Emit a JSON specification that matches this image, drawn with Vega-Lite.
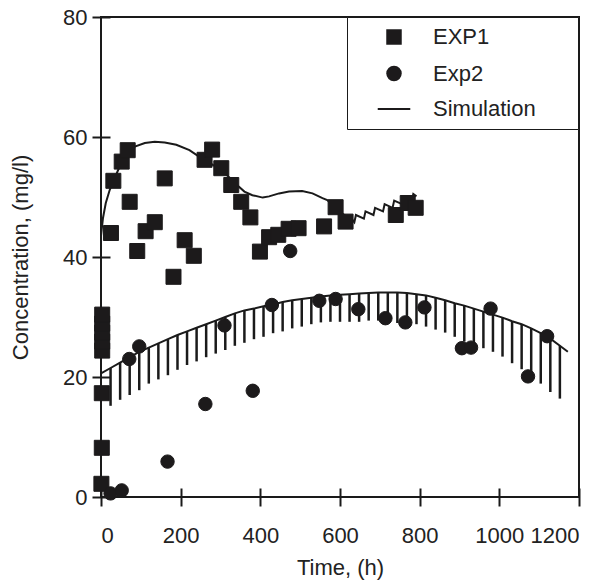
{
  "$schema": "https://vega.github.io/schema/vega-lite/v6.json",
  "width": 478,
  "height": 480,
  "autosize": {"type": "none"},
  "padding": {"left": 101, "top": 17, "right": 29, "bottom": 90},
  "background": "white",
  "config": {
    "view": {"stroke": "#1a1a1a", "strokeWidth": 2},
    "font": "Liberation Sans",
    "axis": {
      "domain": false,
      "grid": false,
      "ticks": true,
      "tickColor": "#1a1a1a",
      "tickWidth": 2,
      "tickSize": 18,
      "offset": -9,
      "labelOverlap": false,
      "labelFont": "Liberation Sans",
      "labelFontSize": 22,
      "labelColor": "#222222",
      "titleFont": "Liberation Sans",
      "titleFontSize": 22,
      "titleFontWeight": "normal",
      "titleColor": "#222222"
    }
  },
  "datasets": {
    "obs": [
      {"t": 1, "c": 2.2, "series": "EXP1"},
      {"t": 2, "c": 8.2, "series": "EXP1"},
      {"t": 2, "c": 17.3, "series": "EXP1"},
      {"t": 3, "c": 24.4, "series": "EXP1"},
      {"t": 3, "c": 25.9, "series": "EXP1"},
      {"t": 3, "c": 27.4, "series": "EXP1"},
      {"t": 3, "c": 28.9, "series": "EXP1"},
      {"t": 3, "c": 30.4, "series": "EXP1"},
      {"t": 25, "c": 44.0, "series": "EXP1"},
      {"t": 31, "c": 52.7, "series": "EXP1"},
      {"t": 52, "c": 55.9, "series": "EXP1"},
      {"t": 67, "c": 57.8, "series": "EXP1"},
      {"t": 72, "c": 49.2, "series": "EXP1"},
      {"t": 91, "c": 41.0, "series": "EXP1"},
      {"t": 112, "c": 44.3, "series": "EXP1"},
      {"t": 135, "c": 45.8, "series": "EXP1"},
      {"t": 160, "c": 53.1, "series": "EXP1"},
      {"t": 182, "c": 36.7, "series": "EXP1"},
      {"t": 210, "c": 42.8, "series": "EXP1"},
      {"t": 233, "c": 40.2, "series": "EXP1"},
      {"t": 260, "c": 56.2, "series": "EXP1"},
      {"t": 279, "c": 57.9, "series": "EXP1"},
      {"t": 302, "c": 54.8, "series": "EXP1"},
      {"t": 327, "c": 52.0, "series": "EXP1"},
      {"t": 352, "c": 49.2, "series": "EXP1"},
      {"t": 375, "c": 46.6, "series": "EXP1"},
      {"t": 399, "c": 40.9, "series": "EXP1"},
      {"t": 422, "c": 43.3, "series": "EXP1"},
      {"t": 445, "c": 43.7, "series": "EXP1"},
      {"t": 471, "c": 44.7, "series": "EXP1"},
      {"t": 496, "c": 44.8, "series": "EXP1"},
      {"t": 560, "c": 45.1, "series": "EXP1"},
      {"t": 589, "c": 48.3, "series": "EXP1"},
      {"t": 614, "c": 45.9, "series": "EXP1"},
      {"t": 740, "c": 47.0, "series": "EXP1"},
      {"t": 770, "c": 49.0, "series": "EXP1"},
      {"t": 790, "c": 48.2, "series": "EXP1"},
      {"t": 24, "c": 0.6, "series": "Exp2"},
      {"t": 52, "c": 1.1, "series": "Exp2"},
      {"t": 71, "c": 23.0, "series": "Exp2"},
      {"t": 96, "c": 25.1, "series": "Exp2"},
      {"t": 167, "c": 5.9, "series": "Exp2"},
      {"t": 262, "c": 15.5, "series": "Exp2"},
      {"t": 310, "c": 28.6, "series": "Exp2"},
      {"t": 381, "c": 17.7, "series": "Exp2"},
      {"t": 429, "c": 32.0, "series": "Exp2"},
      {"t": 475, "c": 41.0, "series": "Exp2"},
      {"t": 548, "c": 32.7, "series": "Exp2"},
      {"t": 589, "c": 33.0, "series": "Exp2"},
      {"t": 646, "c": 31.3, "series": "Exp2"},
      {"t": 714, "c": 29.8, "series": "Exp2"},
      {"t": 764, "c": 29.1, "series": "Exp2"},
      {"t": 812, "c": 31.6, "series": "Exp2"},
      {"t": 906, "c": 24.8, "series": "Exp2"},
      {"t": 929, "c": 24.9, "series": "Exp2"},
      {"t": 978, "c": 31.4, "series": "Exp2"},
      {"t": 1072, "c": 20.1, "series": "Exp2"},
      {"t": 1120, "c": 26.8, "series": "Exp2"}
    ],
    "sim1": [
      {"t": 0, "c": 43.5}, {"t": 5, "c": 46.5}, {"t": 12, "c": 49.0}, {"t": 22, "c": 51.2},
      {"t": 43, "c": 54.5}, {"t": 60, "c": 56.5}, {"t": 85, "c": 58.4}, {"t": 110, "c": 59.0},
      {"t": 135, "c": 59.2}, {"t": 160, "c": 59.1}, {"t": 189, "c": 58.7}, {"t": 222, "c": 57.8},
      {"t": 247, "c": 56.7}, {"t": 270, "c": 55.8}, {"t": 289, "c": 55.0}, {"t": 310, "c": 54.0},
      {"t": 330, "c": 52.8}, {"t": 345, "c": 51.8}, {"t": 360, "c": 50.9}, {"t": 380, "c": 50.3},
      {"t": 406, "c": 49.9}, {"t": 422, "c": 50.1}, {"t": 447, "c": 50.6}, {"t": 472, "c": 50.9},
      {"t": 505, "c": 51.0}, {"t": 531, "c": 50.6}, {"t": 556, "c": 49.8}, {"t": 568, "c": 49.5},
      {"t": 597, "c": 47.6}, {"t": 615, "c": 46.8}, {"t": 631, "c": 46.2},
      {"t": 636, "c": 45.8}, {"t": 640, "c": 47.0}, {"t": 660, "c": 46.4}, {"t": 664, "c": 47.6},
      {"t": 684, "c": 47.0}, {"t": 688, "c": 48.2}, {"t": 708, "c": 47.6}, {"t": 712, "c": 48.8},
      {"t": 732, "c": 48.2}, {"t": 736, "c": 49.4}, {"t": 756, "c": 48.8}, {"t": 760, "c": 50.0},
      {"t": 780, "c": 49.3}, {"t": 784, "c": 50.5}, {"t": 792, "c": 50.1}
    ],
    "sim2": [
      {"t": 0, "c": 20.6, "lo": null},
      {"t": 24, "c": 21.5, "lo": 15.2},
      {"t": 48, "c": 22.4, "lo": 16.2},
      {"t": 72, "c": 23.3, "lo": 17.0},
      {"t": 96, "c": 24.2, "lo": 17.8},
      {"t": 120, "c": 24.9, "lo": 18.9},
      {"t": 144, "c": 25.6, "lo": 19.6},
      {"t": 168, "c": 26.3, "lo": 20.3},
      {"t": 192, "c": 27.0, "lo": 21.2},
      {"t": 216, "c": 27.6, "lo": 22.0},
      {"t": 240, "c": 28.2, "lo": 22.6},
      {"t": 264, "c": 28.8, "lo": 23.3},
      {"t": 288, "c": 29.4, "lo": 23.9},
      {"t": 312, "c": 30.0, "lo": 24.5},
      {"t": 336, "c": 30.6, "lo": 25.2},
      {"t": 360, "c": 31.1, "lo": 25.7},
      {"t": 384, "c": 31.4, "lo": 26.3},
      {"t": 408, "c": 31.8, "lo": 26.7},
      {"t": 432, "c": 32.1, "lo": 27.3},
      {"t": 456, "c": 32.5, "lo": 27.6},
      {"t": 480, "c": 32.8, "lo": 28.1},
      {"t": 504, "c": 33.0, "lo": 28.4},
      {"t": 528, "c": 33.2, "lo": 28.8},
      {"t": 552, "c": 33.4, "lo": 29.1},
      {"t": 576, "c": 33.6, "lo": 29.2},
      {"t": 600, "c": 33.7, "lo": 29.2},
      {"t": 624, "c": 33.8, "lo": 29.2},
      {"t": 648, "c": 33.9, "lo": 29.2},
      {"t": 672, "c": 34.0, "lo": 29.4},
      {"t": 696, "c": 34.1, "lo": 29.4},
      {"t": 720, "c": 34.1, "lo": 29.2},
      {"t": 744, "c": 34.1, "lo": 29.0},
      {"t": 768, "c": 34.0, "lo": 29.0},
      {"t": 792, "c": 33.8, "lo": 28.8},
      {"t": 816, "c": 33.6, "lo": 28.4},
      {"t": 840, "c": 33.2, "lo": 27.9},
      {"t": 864, "c": 32.8, "lo": 27.4},
      {"t": 888, "c": 32.3, "lo": 26.7},
      {"t": 912, "c": 31.9, "lo": 25.9},
      {"t": 936, "c": 31.4, "lo": 25.3},
      {"t": 960, "c": 30.9, "lo": 24.8},
      {"t": 984, "c": 30.4, "lo": 24.2},
      {"t": 1008, "c": 29.9, "lo": 23.4},
      {"t": 1032, "c": 29.3, "lo": 22.3},
      {"t": 1056, "c": 28.8, "lo": 21.3},
      {"t": 1080, "c": 28.1, "lo": 20.3},
      {"t": 1104, "c": 27.3, "lo": 18.9},
      {"t": 1128, "c": 26.4, "lo": 17.5},
      {"t": 1152, "c": 25.2, "lo": 16.4},
      {"t": 1172, "c": 24.2, "lo": null}
    ]
  },
  "encoding": {
    "x": {
      "field": "t",
      "type": "quantitative",
      "scale": {"domain": [0, 1200], "nice": false, "zero": false},
      "axis": {"title": "Time, (h)", "values": [0, 200, 400, 600, 800, 1000, 1200], "format": "d", "labelPadding": 19, "titlePadding": 11}
    },
    "y": {
      "field": "c",
      "type": "quantitative",
      "scale": {"domain": [0, 80], "nice": false},
      "axis": {"title": "Concentration, (mg/l)", "values": [0, 20, 40, 60, 80], "labelPadding": 5, "titlePadding": 30}
    }
  },
  "layer": [
    {
      "data": {"name": "sim2"},
      "transform": [{"filter": "datum.lo != null"}],
      "mark": {"type": "rule", "color": "#1a1a1a", "strokeWidth": 2.5},
      "encoding": {"y2": {"field": "lo"}}
    },
    {
      "data": {"name": "sim2"},
      "mark": {"type": "line", "color": "#1a1a1a", "strokeWidth": 2}
    },
    {
      "data": {"name": "sim1"},
      "mark": {"type": "line", "color": "#1a1a1a", "strokeWidth": 2}
    },
    {
      "data": {"name": "obs"},
      "mark": {"type": "point", "filled": true, "color": "#1c1a1b", "stroke": "#1c1a1b", "strokeWidth": 1, "opacity": 1},
      "encoding": {
        "size": {"condition": {"test": "datum.series === 'EXP1'", "value": 225}, "value": 180},
        "shape": {
          "field": "series",
          "type": "nominal",
          "scale": {"domain": ["EXP1", "Exp2", "Simulation"], "range": ["square", "circle", "M-2.1,-0.13L2.1,-0.13L2.1,0.13L-2.1,0.13Z"]},
          "legend": {
            "title": " ",
            "titleOrient": "right",
            "titlePadding": 33,
            "titleFontSize": 22,
            "orient": "none",
            "legendX": 246,
            "legendY": 0,
            "padding": 9,
            "symbolSize": 240,
            "symbolOffset": 27,
            "labelOffset": 28,
            "rowPadding": 12.5,
            "symbolStrokeColor": "#1c1a1b",
            "symbolFillColor": "#1c1a1b",
            "symbolStrokeWidth": 2,
            "symbolOpacity": 1,
            "labelFont": "Liberation Sans",
            "labelFontSize": 22,
            "labelColor": "#222222",
            "strokeColor": "#1a1a1a",
            "fillColor": "white"
          }
        }
      }
    }
  ]
}
